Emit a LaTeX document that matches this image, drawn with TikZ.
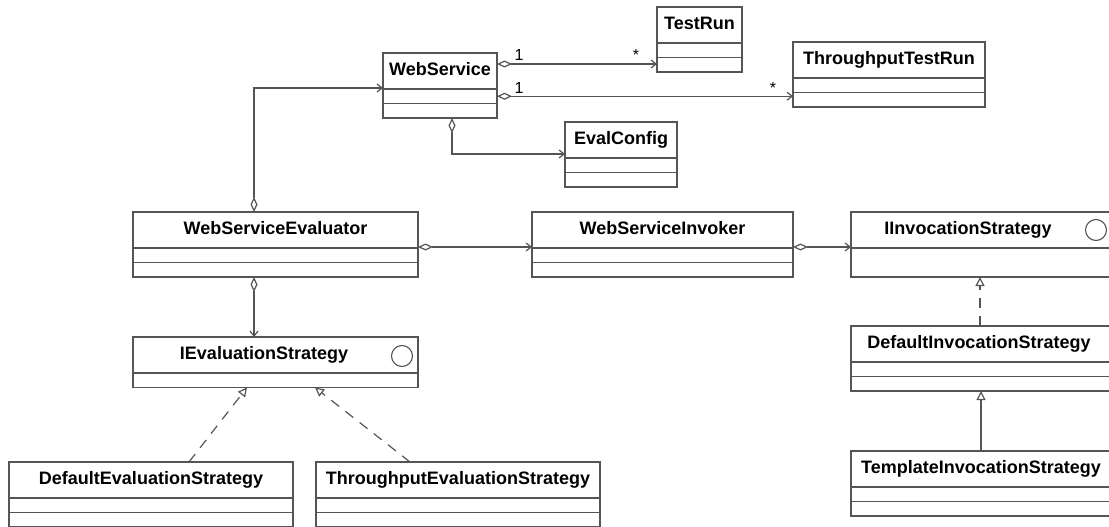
\documentclass[tikz,border=0pt]{standalone}
\usepackage{fontspec}
\setmainfont{Liberation Sans}
\usetikzlibrary{arrows.meta,calc}
\definecolor{lc}{HTML}{555555}
\tikzset{
  hdr/.style={draw=lc, line width=1.3pt, minimum height=36pt, inner sep=0pt, outer sep=0pt,
    text height=13pt, text depth=4pt, font=\bfseries\fontsize{18}{20}\selectfont},
  cmp/.style={draw=lc, line width=1.3pt, minimum height=14.5pt, inner sep=0pt, outer sep=0pt},
  ttl/.style={inner sep=0pt, text height=13pt, text depth=4pt, font=\bfseries\fontsize{18}{20}\selectfont},
  mult/.style={inner sep=0pt, font=\fontsize{16}{18}\selectfont},
  ifc/.style={circle, draw=lc, line width=1.1pt, minimum size=21pt, inner sep=0pt},
  conn/.style={draw=lc, line width=1.2pt},
  agg/.style={conn, {Diamond[open,length=15pt,width=7pt]}-{Straight Barb[length=5pt,width=8pt]}},
  real/.style={conn, dash pattern=on 10pt off 8pt, -{Triangle[open,length=9pt,width=9pt]}},
  gen/.style={conn, -{Triangle[open,length=9pt,width=9pt]}},
}
% class box: name, left x, top y, width, title
\newcommand\classbox[5]{%
  \node[hdr, minimum width=#4pt, anchor=north west] (#1) at (#2,#3) {#5};
  \node[cmp, minimum width=#4pt, anchor=north] (#1-a) at (#1.south) {};
  \node[cmp, minimum width=#4pt, anchor=north] (#1-m) at (#1-a.south) {};
}
\begin{document}
\begin{tikzpicture}[x=1pt, y=-1pt]
\useasboundingbox (0,0) rectangle (1109,527);
\clip (0,0) rectangle (1109,527);

% classes
\classbox{ws}{383}{53}{114}{WebService}
\classbox{tr}{657}{7}{85}{TestRun}
\classbox{ttr}{793}{42}{192}{ThroughputTestRun}
\classbox{ec}{565}{122}{112}{EvalConfig}
\classbox{wse}{133}{212}{285}{WebServiceEvaluator}
\classbox{wsi}{532}{212}{261}{WebServiceInvoker}
\classbox{des}{9}{462}{284}{DefaultEvaluationStrategy}
\classbox{tes}{316}{462}{284}{ThroughputEvaluationStrategy}

% interfaces
\node[hdr, minimum width=285pt, anchor=north west] (ies) at (133,337) {};
\node[cmp, minimum width=285pt, anchor=north] (ies-a) at (ies.south) {};
\node[ttl] (ies-t) at (264,355) {IEvaluationStrategy};
\node[ifc] (ies-c) at (402,356) {};

\node[hdr, minimum width=280pt, anchor=north west] (iis) at (851,212) {};
\node[cmp, minimum width=280pt, minimum height=29pt, anchor=north] (iis-a) at (iis.south) {};
\node[ttl] (iis-t) at (968,230) {IInvocationStrategy};
\node[ifc] (iis-c) at (1096,230) {};

\classbox{dis}{851}{326}{280}{}
\node[ttl] (dis-t) at (979,344) {DefaultInvocationStrategy};
\classbox{tis}{851}{451}{280}{}
\node[ttl] (tis-t) at (981,469) {TemplateInvocationStrategy};

% associations
\draw[agg] ($(ws.north east)+(0,11)$) coordinate (p1) -- (p1 -| tr.west);
\draw[agg] (ws-a.east) -- (ws-a.east -| ttr.west);
\draw[agg] ($(ws-m.south west)+(69,0)$) |- ($(ec.south west)+(0,-4)$);
\draw[agg] ($(wse.north west)+(121,0)$) |- ($(ws.south west)+(0,-1)$);
\draw[agg] ($(wse-m.south west)+(121,0)$) -- ($(ies.north west)+(121,0)$);
\draw[agg] ($(wse.south east)+(0,-1)$) coordinate (p2) -- (p2 -| wsi.west);
\draw[agg] ($(wsi.south east)+(0,-1)$) coordinate (p3) -- (p3 -| iis.west);

% multiplicities
\node[mult] (m1) at (519,55) {1};
\node[mult] (m2) at (636,55) {*};
\node[mult] (m3) at (519,88) {1};
\node[mult] (m4) at (773,88) {*};

% realizations and generalization
\draw[real] ($(des.north west)+(180,0)$) -- ($(ies-a.south west)+(114,0)$);
\draw[real] ($(tes.north west)+(94,0)$) -- ($(ies-a.south west)+(182,0)$);
\draw[real] ($(dis.north west)+(129,0)$) -- ($(iis-a.south west)+(129,0)$);
\draw[gen] ($(tis.north west)+(130,0)$) -- ($(dis-m.south west)+(130,0)$);
\end{tikzpicture}
\end{document}
